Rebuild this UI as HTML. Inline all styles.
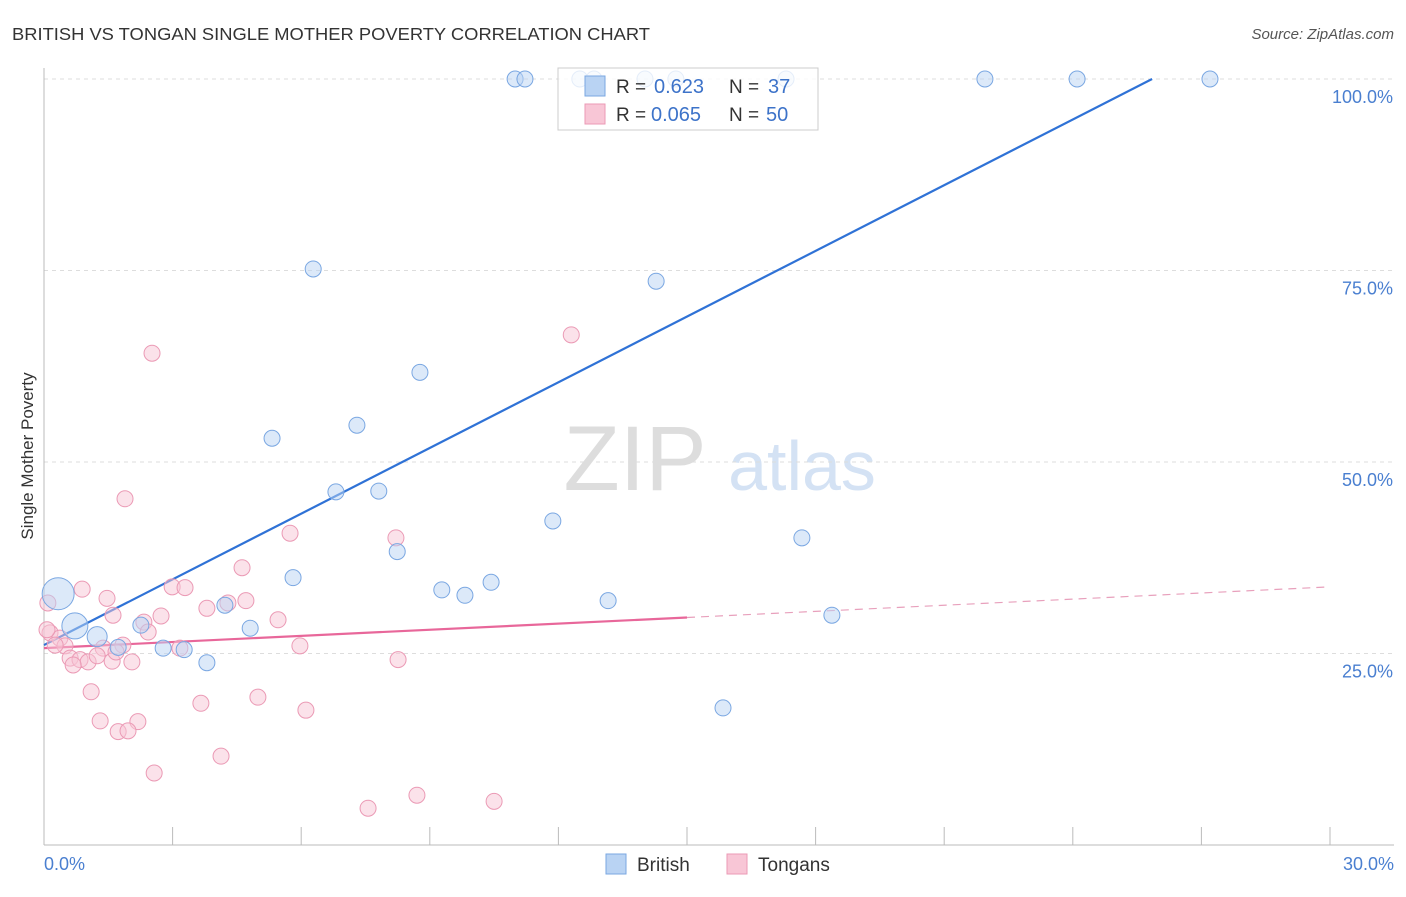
<!DOCTYPE html>
<html><head><meta charset="utf-8"><style>
body{margin:0;background:#fff;font-family:"Liberation Sans",sans-serif;}
svg text{font-family:"Liberation Sans",sans-serif;}
</style></head><body>
<svg id="chart" width="1406" height="892">
<text x="12" y="40" font-size="17.5" fill="#333" textLength="638" lengthAdjust="spacingAndGlyphs">BRITISH VS TONGAN SINGLE MOTHER POVERTY CORRELATION CHART</text>
<text x="1394" y="39" font-size="15" fill="#555" font-style="italic" text-anchor="end">Source: ZipAtlas.com</text>
<text x="33" y="456" font-size="17" fill="#333" text-anchor="middle" transform="rotate(-90 33 456)">Single Mother Poverty</text>
<g><text x="635" y="490" font-size="92" fill="#ddd" font-family="Liberation Serif" text-anchor="middle">ZIP</text><text x="802" y="490" font-size="70" fill="#d4e2f4" text-anchor="middle">atlas</text></g>
<g id="grid"></g><g id="axes"></g><g id="trend"></g><g id="pts"></g>
<g>
<rect x="558" y="68" width="260" height="62" fill="#fff" fill-opacity="0.8" stroke="#ccc"/>
<rect x="585" y="76" width="20" height="20" fill="#b9d3f3" stroke="#7aa7e2"/>
<rect x="585" y="104" width="20" height="20" fill="#f8c6d6" stroke="#eb9ab5"/>
<text x="616" y="93" font-size="19" fill="#333">R =</text><text x="654" y="93" font-size="20" fill="#3d73c9">0.623</text>
<text x="729" y="93" font-size="19" fill="#333">N =</text><text x="768" y="93" font-size="20" fill="#3d73c9">37</text>
<text x="616" y="121" font-size="19" fill="#333">R =</text><text x="651" y="121" font-size="20" fill="#3d73c9">0.065</text>
<text x="729" y="121" font-size="19" fill="#333">N =</text><text x="766" y="121" font-size="20" fill="#3d73c9">50</text>
</g>
<g>
<rect x="606" y="854" width="20" height="20" fill="#b9d3f3" stroke="#7aa7e2"/>
<text x="637" y="871" font-size="19" fill="#333">British</text>
<rect x="727" y="854" width="20" height="20" fill="#f8c6d6" stroke="#eb9ab5"/>
<text x="758" y="871" font-size="19" fill="#333">Tongans</text>
</g>
</svg>
<script>
const britishX=[10.99,11.22,12.5,12.83,14.02,14.74,17.31,21.95,24.1,27.2,6.28,14.28,8.77,7.3,5.32,6.81,7.81,11.87,17.68,8.24,5.81,9.28,9.82,10.43,13.16,18.38,4.22,4.81,2.26,2.78,3.27,3.8,1.73,1.24,0.72,0.33,15.84];
const britishY=[100,100,100,100,100,100,100,100,100,100,75.2,73.6,61.7,54.8,53.1,46.1,46.2,42.3,40.1,38.3,34.9,33.3,32.6,34.3,31.9,30,31.3,28.3,28.7,25.7,25.5,23.8,25.8,27.2,28.6,32.8,17.9];
const britishR=[8,8,8,8,8,8,8,8,8,8,8,8,8,8,8,8,8,8,8,8,8,8,8,8,8,8,8,8,8,8,8,8,8,10,13,16,8];
const tonganX=[2.52,12.3,1.89,5.74,8.21,4.62,0.89,2.99,3.29,1.47,4.71,4.29,3.8,2.73,1.61,2.33,5.46,2.43,0.09,0.14,0.37,0.49,1.38,1.84,3.17,5.97,0.61,0.84,1.03,1.24,1.59,2.05,8.26,0.68,1.1,3.66,4.99,6.11,1.31,2.19,1.73,1.96,4.13,2.57,8.7,7.56,10.5,0.26,0.07,1.68];
const tonganY=[64.2,66.6,45.2,40.7,40.1,36.2,33.4,33.7,33.6,32.2,31.9,31.6,30.9,29.9,30,29.1,29.4,27.8,31.6,27.7,27,26,25.7,26.1,25.7,26,24.4,24.2,23.9,24.7,24,23.9,24.2,23.5,20,18.5,19.3,17.6,16.2,16.1,14.8,14.9,11.6,9.4,6.5,4.8,5.7,26.1,28.1,25.2];
const xTicks=[0,3,6,9,12,15,18,21,24,27,30];
const yTicks=[25,50,75,100];
const yTickLabels=["25.0%","50.0%","75.0%","100.0%"];
const blueTrend=[[0,26.1],[25.85,100]];
const pinkTrend=[[0,25.7],[15,29.7],[30,33.7]];
const X=v=>44+v/30*1286, Y=v=>845-v/100*766;
const NS="http://www.w3.org/2000/svg";
function mk(p,t,a){const e=document.createElementNS(NS,t);for(const k in a)e.setAttribute(k,a[k]);p.appendChild(e);return e;}
const grid=document.getElementById('grid'),axes=document.getElementById('axes'),tr=document.getElementById('trend'),pts=document.getElementById('pts');
yTicks.forEach((t,i)=>{const l=mk(grid,'line',{x1:44,x2:1394,y1:Y(t),y2:Y(t),stroke:'#ddd','stroke-dasharray':'4 4'});


const tx=mk(axes,'text',{x:1393,y:Y(t)+24,'font-size':18,fill:'#4a7fd0','text-anchor':'end'});tx.textContent=yTickLabels[i];

});
const ax=mk(axes,'line',{x1:44,x2:1394,y1:845,y2:845,stroke:'#bbb'});


const ay=mk(axes,'line',{x1:44,x2:44,y1:68,y2:845,stroke:'#bbb'});


xTicks.forEach(t=>{const l=mk(axes,'line',{x1:X(t),x2:X(t),y1:827,y2:845,stroke:'#bbb'});

});
[["0.0%",44,'start'],["30.0%",1394,'end']].forEach(d=>{const tx=mk(axes,'text',{x:d[1],y:870,'font-size':18,fill:'#4a7fd0','text-anchor':d[2]});tx.textContent=d[0];

});
function dot(x,y,r,f,s,n){const c=mk(pts,'circle',{cx:X(x),cy:Y(y),r:r,fill:f,stroke:s,'stroke-width':1,'fill-opacity':0.5});

}
tonganX.forEach((x,i)=>dot(x,tonganY[i],8,'#f8c6d6','#eb9ab5','tongan-point'));
britishX.forEach((x,i)=>dot(x,britishY[i],britishR[i],'#b9d3f3','#7aa7e2','british-point'));
const b=mk(tr,'line',{x1:X(blueTrend[0][0]),y1:Y(blueTrend[0][1]),x2:X(blueTrend[1][0]),y2:Y(blueTrend[1][1]),stroke:'#2f72d6','stroke-width':2.2});


const p1=mk(tr,'line',{x1:X(pinkTrend[0][0]),y1:Y(pinkTrend[0][1]),x2:X(pinkTrend[1][0]),y2:Y(pinkTrend[1][1]),stroke:'#e8679a','stroke-width':2.2});


const p2=mk(tr,'line',{x1:X(pinkTrend[1][0]),y1:Y(pinkTrend[1][1]),x2:X(pinkTrend[2][0]),y2:Y(pinkTrend[2][1]),stroke:'#e8a0bc','stroke-width':1.2,'stroke-dasharray':'8 6'});


</script>
</body></html>
